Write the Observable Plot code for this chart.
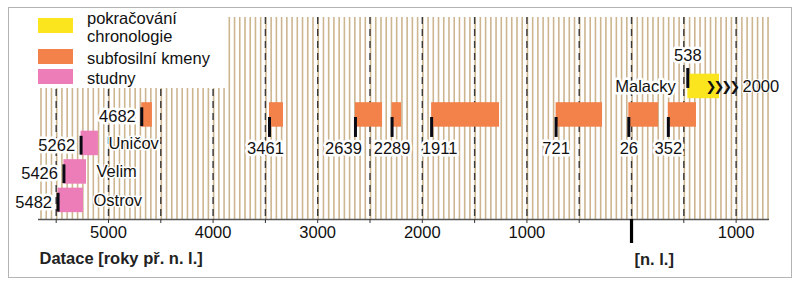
<!DOCTYPE html>
<html>
<head>
<meta charset="utf-8">
<script src="https://cdn.jsdelivr.net/npm/d3@7"></script>
<script src="https://cdn.jsdelivr.net/npm/@observablehq/plot@0.6"></script>
<style>
  body { margin: 0; background: #fff; font-family: "Liberation Sans", Arial, sans-serif; }
  #wrap { position: relative; width: 800px; height: 288px; overflow: hidden; }
  #frame { position: absolute; left: 8px; top: 7px; width: 782px; height: 269px; border: 1.5px solid #b4b4b4; }
  #chart { position: absolute; left: 0; top: 0; }
  #legend { position: absolute; left: 30px; top: 9px; width: 198px; height: 79px; background: #fff; }
  #legend .sw { position: absolute; left: 8px; width: 35px; height: 15px; }
  #legend .tx { position: absolute; left: 57px; font-size: 16.5px; line-height: 16px; color: #111; white-space: nowrap; }
  .chev text { letter-spacing: -3px; }
</style>
</head>
<body>
<div id="wrap">
  <div id="frame"></div>
  <div id="chart"></div>
  <div id="legend"></div>
</div>
<script>
// ---- data ----
const seriesNames = ["pokračování chronologie", "subfosilní kmeny", "studny"];
const seriesColors = ["#fbe51e", "#f3814a", "#ec7db8"];
const starts = [538, -4682, -3461, -2639, -2289, -1911, -721, -26, 352, -5262, -5426, -5482];
const ends   = [841, -4580, -3327, -2380, -2199, -1262, -277, 258, 621, -5096, -5210, -5239];
const kinds  = [0, 1, 1, 1, 1, 1, 1, 1, 1, 2, 2, 2];
const sites  = ["Malacky", "", "", "", "", "", "", "", "", "Uničov", "Velim", "Ostrov"];
const labelSide = ["above", "left", "below", "below", "below", "below", "below", "below", "below", "left", "left", "left"];
const continuationEnd = "2000";
const labeledTicks = [-5000, -4000, -3000, -2000, -1000, 1000];
const minorTicks = d3.range(-5500, 1001, 500);
const axisTitleBC = "Datace [roky př. n. l.]";
const axisTitleAD = "[n. l.]";

// ---- layout ----
const xDomain = [-5669, 1319];
const yDomain = [-2.42, 4.67];
const mL = 38, mR = 31, W = 800;
const pxPerYear = (W - mL - mR) / (xDomain[1] - xDomain[0]);
const nudgePx = {"2639": -12, "1911": 8, "3461": -4};

let pinkRow = 2;
const items = starts.map((s, i) => {
  const k = kinds[i];
  const row = k === 0 ? 0 : k === 1 ? 1 : pinkRow++;
  const side = labelSide[i];
  let t1, t2, ly;
  if (side === "below") { t1 = row + 0.09; t2 = row + 0.79; ly = row + 1.18; }
  else if (side === "left") { t1 = row - 0.25; t2 = row + 0.41; ly = row + 0.08; }
  else { t1 = row - 0.63; t2 = row + 0.07; ly = row - 1.09; }
  return {start: s, end: ends[i], kind: k, row, site: sites[i], side, t1, t2, ly,
          label: String(Math.abs(s))};
});

const font = "Liberation Sans, Arial, sans-serif";

const chart = Plot.plot({
  width: W, height: 288,
  marginLeft: mL, marginRight: mR, marginTop: 17, marginBottom: 69,
  style: {fontFamily: font, fontSize: "16.5px", color: "#111", background: "transparent"},
  x: {domain: xDomain, axis: null},
  y: {domain: yDomain, reverse: true, axis: null},
  marks: [
    // tree-ring stripes
    Plot.ruleX(d3.range(-5645, 1319, 50), {stroke: "#cdb590", strokeWidth: 1.6}),
    // dashed guides
    Plot.ruleX(minorTicks, {stroke: "#3a3a3a", strokeWidth: 1.4, strokeDasharray: "7 5"}),
    // axis
    Plot.ruleY([yDomain[1]], {stroke: "#555", strokeWidth: 1.5}),
    Plot.axisX({ticks: minorTicks, tickSize: 4, tickFormat: () => "", stroke: "#333"}),
    Plot.axisX({ticks: labeledTicks, tickSize: 0, tickPadding: 7, tickFormat: d => String(Math.abs(d)), fontSize: 16.5, fill: "#111"}),
    Plot.axisX({ticks: [0], tickSize: 24, strokeWidth: 3.2, stroke: "#000", tickFormat: () => ""}),
    Plot.text([axisTitleBC], {frameAnchor: "bottom-left", textAnchor: "start", lineAnchor: "middle", dy: 39, dx: 1, fontWeight: "bold", fontSize: 16.5, fill: "#222"}),
    Plot.text([axisTitleAD], {x: 0, frameAnchor: "bottom", textAnchor: "start", lineAnchor: "middle", dy: 40, dx: 3, fontWeight: "bold", fontSize: 16.5, fill: "#222"}),
    // bars
    Plot.rect(items, {x1: "start", x2: "end", y1: d => d.row - 0.43, y2: d => d.row + 0.43, fill: d => seriesColors[d.kind]}),
    // continuation label and chevrons
    Plot.text(items.filter(d => d.kind === 0), {x: "end", y: "row", text: () => continuationEnd, textAnchor: "start", dx: 23, fontSize: 16.5, fill: "#111", stroke: "white", strokeWidth: 2}),
    Plot.text(items.filter(d => d.kind === 0), {x: "end", y: "row", text: () => "❯❯❯❯", textAnchor: "start", dx: -14, fontFamily: "DejaVu Sans", fontSize: 13, fill: "#111", fontWeight: "bold", className: "chev"}),
    // start ticks
    Plot.ruleX(items, {x: "start", y1: "t1", y2: "t2", stroke: "#0a0a14", strokeWidth: 3}),
    // year labels
    Plot.text(items.filter(d => d.side === "below"), {x: d => d.start + (nudgePx[d.label] || 0) / pxPerYear, y: "ly", text: "label", textAnchor: "middle", fontSize: 16.5, fill: "#111", stroke: "white", strokeWidth: 5}),
    Plot.text(items.filter(d => d.side === "left"), {x: "start", y: "ly", text: "label", textAnchor: "end", dx: -6, fontSize: 16.5, fill: "#111", stroke: "white", strokeWidth: 5}),
    Plot.text(items.filter(d => d.side === "above"), {x: "start", y: "ly", text: "label", textAnchor: "middle", fontSize: 16.5, fill: "#111", stroke: "white", strokeWidth: 5}),
    // site names
    Plot.text(items.filter(d => d.site && d.kind === 2), {x: "end", y: "row", text: "site", textAnchor: "start", dx: 10, fontSize: 16.5, fill: "#111", stroke: "white", strokeWidth: 3}),
    Plot.text(items.filter(d => d.site && d.kind === 0), {x: "start", y: "row", text: "site", textAnchor: "end", dx: -12, fontSize: 16.5, fill: "#111", stroke: "white", strokeWidth: 5})
  ]
});
document.getElementById("chart").appendChild(chart);

// legend (HTML overlay inside the frame)
const legend = document.getElementById("legend");
const legendRows = [
  {k: 0, swTop: 9, lines: ["pokračování", "chronologie"], txTop: 1},
  {k: 1, swTop: 40, lines: ["subfosilní kmeny"], txTop: 41},
  {k: 2, swTop: 60, lines: ["studny"], txTop: 61}
];
legendRows.forEach(r => {
  const sw = document.createElement("div");
  sw.className = "sw";
  sw.style.top = r.swTop + "px";
  sw.style.background = seriesColors[r.k];
  legend.appendChild(sw);
  r.lines.forEach((line, j) => {
    const tx = document.createElement("div");
    tx.className = "tx";
    tx.style.top = (r.txTop + j * 18) + "px";
    tx.textContent = line;
    legend.appendChild(tx);
  });
});
</script>
</body>
</html>
